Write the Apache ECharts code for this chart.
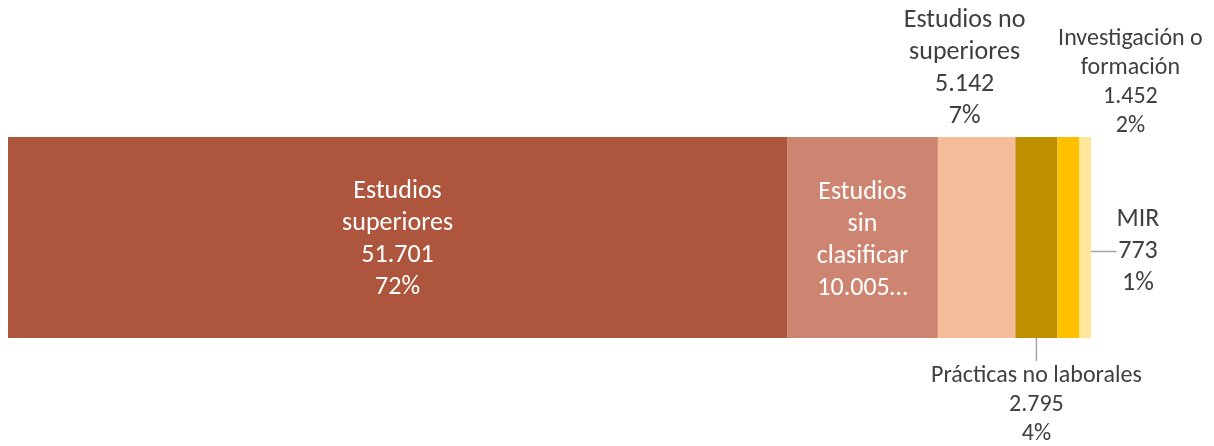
<!DOCTYPE html>
<html><head><meta charset="utf-8">
<script src="https://cdn.jsdelivr.net/npm/echarts@6/dist/echarts.min.js"></script>
<style>html,body{margin:0;padding:0;background:#fff}#c{width:1214px;height:446px}</style>
</head><body><div id="c"></div>
<script>
const categories = ['Total'];
const seriesNames = ['Estudios superiores','Estudios sin clasificar','Estudios no superiores','Prácticas no laborales','Investigación o formación','MIR'];
const labelNames = ['Estudios\nsuperiores','Estudios\nsin\nclasificar','Estudios no\nsuperiores','Prácticas no laborales','Investigación o\nformación','MIR'];
const values = [51701, 10005, 5142, 2795, 1452, 773];
const colors = ['#AD563D','#CD8471','#F5BC9A','#BF8F00','#FFC000','#FFE699'];

const total = values.reduce((a,b)=>a+b,0);
const fmt = v => String(v).replace(/\B(?=(\d{3})+(?!\d))/g,'.');
const FONT = "Carlito, 'Open Sans'";

const labelCfg = [
  {position:'inside', color:'#fff', size:26, lineHeight:32, offset:[0,2]},
  {position:'inside', color:'#fff', size:26, lineHeight:32, truncated:true, offset:[0,3]},
  {position:'top', color:'#404040', size:26, lineHeight:32, offset:[-12,0]},
  {position:'bottom', color:'#404040', size:24, lineHeight:29, layout:{dy:18}, line:true},
  {position:'top', color:'#404040', size:24, lineHeight:29, offset:[62,8]},
  {position:'right', color:'#404040', size:26, lineHeight:32, layout:{dx:42, dy:14}, line:true}
];

const series = values.map((v,i)=>{
  const c = labelCfg[i];
  const s = {
    name: seriesNames[i], type:'bar', stack:'t', barWidth:'100%',
    data:[v], itemStyle:{color:colors[i]},
    label:{show:true, position:c.position, color:c.color, fontFamily:FONT, fontSize:c.size,
      lineHeight:c.lineHeight, align:'center', distance:5,
      formatter: c.truncated ? (p)=>labelNames[i]+'\n'+fmt(p.value)+'…'
        : (p)=>labelNames[i]+'\n'+fmt(p.value)+'\n'+Math.round(p.value/total*100)+'%'}
  };
  if (c.offset) s.label.offset = c.offset;
  if (c.layout) s.labelLayout = c.layout;
  if (c.line) s.labelLine = {show:true, lineStyle:{color:'#A6A6A6', width:1.5}};
  return s;
});

const chart = echarts.init(document.getElementById('c'));
chart.setOption({
  animation:false,
  grid:{left:8, right:123, top:137, bottom:108},
  xAxis:{type:'value', min:0, max:total, show:false},
  yAxis:{type:'category', data:categories, show:false},
  series
});
</script></body></html>
